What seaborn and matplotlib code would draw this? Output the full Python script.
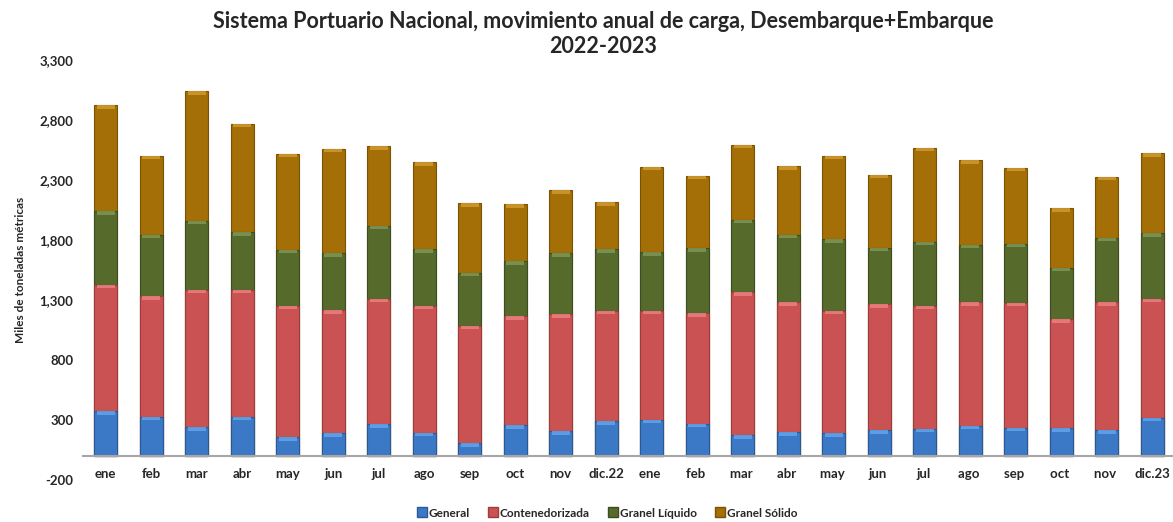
import numpy as np
import pandas as pd
import matplotlib
matplotlib.use("Agg")
import matplotlib.pyplot as plt
import seaborn as sns
from matplotlib.lines import Line2D

# ---- data (miles de toneladas métricas) ----
months = ["ene", "feb", "mar", "abr", "may", "jun", "jul", "ago", "sep", "oct", "nov", "dic.22",
          "ene ", "feb ", "mar ", "abr ", "may ", "jun ", "jul ", "ago ", "sep ", "oct ", "nov ", "dic.23"]
general = [373, 326, 242, 326, 159, 192, 265, 195, 109, 259, 209, 292,
           301, 270, 173, 200, 192, 214, 228, 251, 237, 231, 214, 318]
contenedorizada = [1053, 1008, 1145, 1061, 1092, 1025, 1047, 1056, 977, 908, 975, 920,
                   911, 919, 1192, 1084, 1020, 1053, 1023, 1033, 1042, 908, 1070, 994]
granel_liquido = [613, 510, 574, 479, 468, 474, 607, 470, 440, 457, 507, 509,
                  484, 544, 604, 560, 593, 468, 535, 476, 490, 429, 535, 546]
granel_solido = [886, 660, 1081, 903, 799, 869, 663, 725, 583, 476, 523, 396,
                 716, 604, 624, 571, 699, 608, 782, 705, 632, 499, 507, 663]

series_names = ["General", "Contenedorizada", "Granel Líquido", "Granel Sólido"]
colors = ["#3b78c5", "#cb5252", "#566a2c", "#a36f06"]
cap_colors = ["#62a4ea", "#ea8080", "#7f9656", "#d09a30"]
edge_colors = ["#2a5a96", "#9c3c3c", "#3e4d1f", "#7a5204"]

df = pd.DataFrame({"mes": months, "General": general, "Contenedorizada": contenedorizada,
                   "Granel Líquido": granel_liquido, "Granel Sólido": granel_solido})
cum = df[series_names].cumsum(axis=1)

sns.set_theme(style="white")
plt.rcParams["font.family"] = ["Lato", "DejaVu Sans"]

fig = plt.figure(figsize=(11.73, 5.22), dpi=100)
ax = fig.add_axes([0.0708, 0.0805, 0.929, 0.8045])

width = 0.5
x = np.arange(len(months))
# stacked via overlapping cumulative bars, tallest first
for i in reversed(range(4)):
    sns.barplot(x=df["mes"], y=cum[series_names[i]], color=colors[i], width=width,
                edgecolor=edge_colors[i], linewidth=0.8, saturation=1, ax=ax, zorder=2)
# bevel caps at top of each segment
cap = 30
for i in range(4):
    tops = cum[series_names[i]].values
    ax.bar(x, np.full(len(x), cap), bottom=tops - cap, width=width * 0.8,
           color=cap_colors[i], linewidth=0, zorder=3, alpha=0.85)

ax.set_ylim(-200, 3300)
ax.set_xlim(-0.5, 23.45)
ax.set_yticks(np.arange(-200, 3301, 500))
ax.yaxis.set_major_formatter(matplotlib.ticker.FuncFormatter(lambda v, p: f"{int(v):,}"))
ax.set_xlabel("")
ax.set_ylabel("Miles de toneladas métricas", fontsize=8.5, fontweight="bold", labelpad=10)

for s in ["top", "right", "left"]:
    ax.spines[s].set_visible(False)
ax.spines["bottom"].set_position(("data", 0))
ax.spines["bottom"].set_color("#a6a6a6")
ax.spines["bottom"].set_linewidth(1.5)
ax.tick_params(axis="x", length=0, pad=9, labelsize=9.5)
ax.tick_params(axis="y", length=0, pad=7, labelsize=9.5)
for lab in ax.get_xticklabels() + ax.get_yticklabels():
    lab.set_fontweight("bold")
ax.grid(False)

fig.text(0.514, 0.978, "Sistema Portuario Nacional, movimiento anual de carga, Desembarque+Embarque\n2022-2023",
         ha="center", va="top", fontsize=15.5, fontweight="bold", linespacing=1.2)

handles = [Line2D([0], [0], marker="s", linestyle="", markersize=6.5, markerfacecolor=colors[i],
                  markeredgecolor=edge_colors[i], label=series_names[i]) for i in range(4)]
fig.legend(handles=handles, loc="center", bbox_to_anchor=(0.517, 0.017), ncol=4, frameon=False,
           prop={"size": 8.5, "weight": "bold"}, handletextpad=0.05, columnspacing=1.5, handlelength=1)

fig.savefig("out.png", dpi=100)
